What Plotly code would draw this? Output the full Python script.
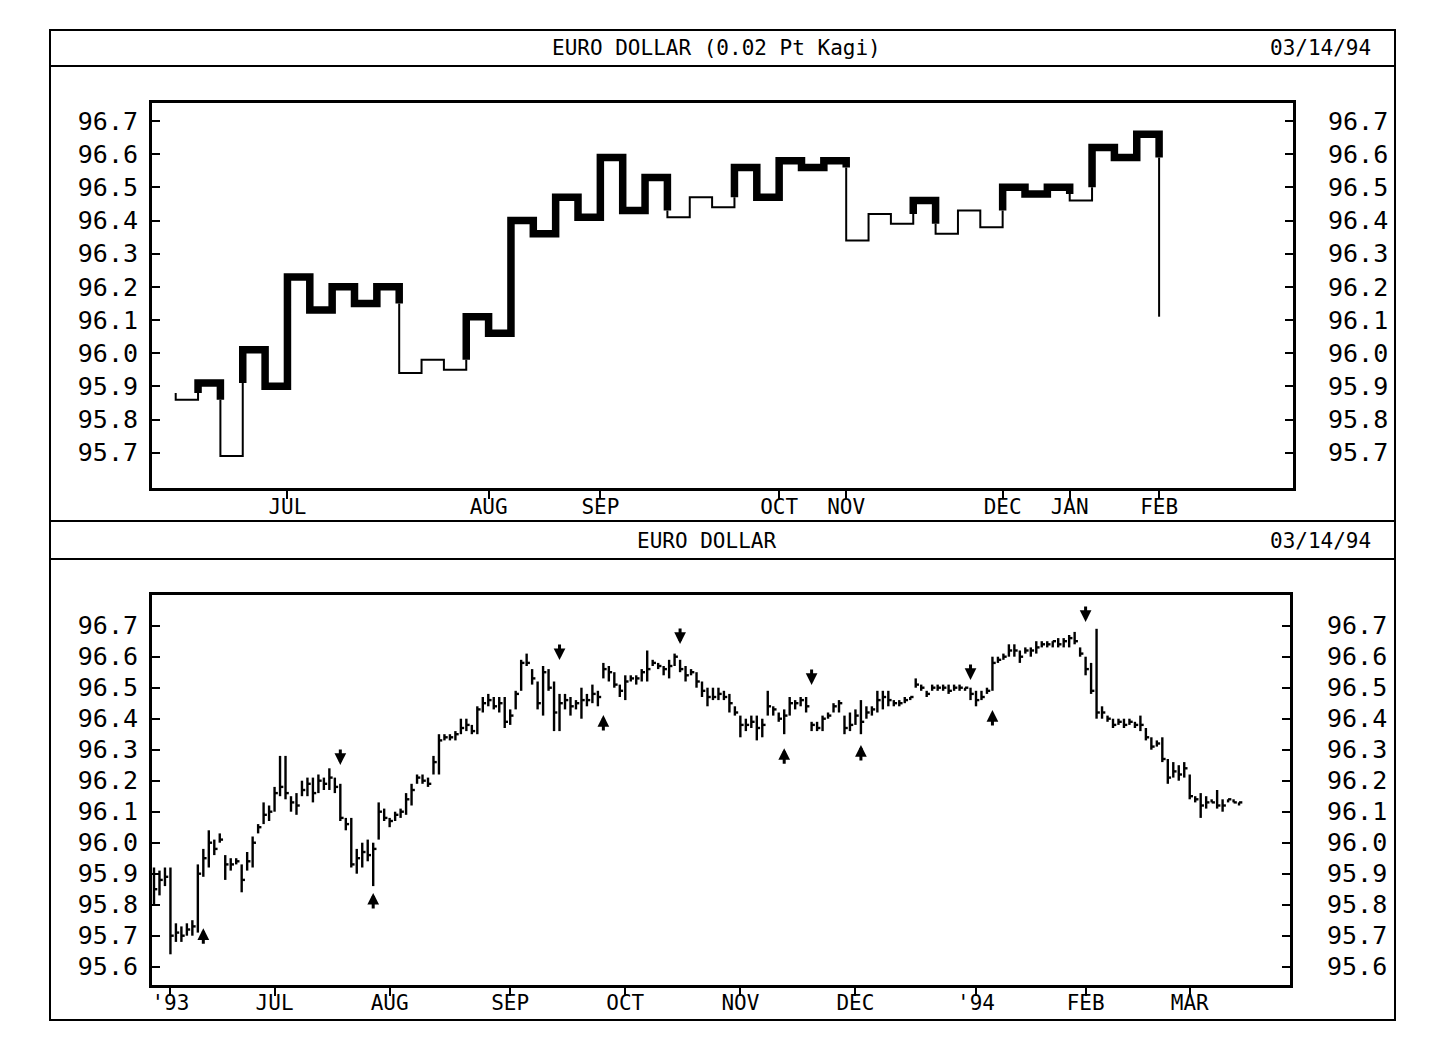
import plotly.graph_objects as go

# page body has an 8px margin; figure is sized so the page fits the 1448x1043 window
OFF = 8
W, H = 1448 - 2 * OFF, 1043 - 2 * OFF

# ---------------- Kagi (top panel) ----------------
kagi_values = [95.88, 95.86, 95.91, 95.69, 96.01, 95.90, 96.23, 96.13, 96.20, 96.15, 96.20,
               95.94, 95.98, 95.95, 96.11, 96.06, 96.40, 96.36, 96.47, 96.41, 96.59, 96.43,
               96.53, 96.41, 96.47, 96.44, 96.56, 96.47, 96.58, 96.56, 96.58, 96.34, 96.42,
               96.39, 96.46, 96.36, 96.43, 96.38, 96.50, 96.48, 96.50, 96.46, 96.62, 96.59,
               96.66, 96.11]
kagi_month_idx = [5, 14, 19, 27, 30, 37, 40, 44]
kagi_month_lbl = ["JUL", "AUG", "SEP", "OCT", "NOV", "DEC", "JAN", "FEB"]

# ---------------- Daily bars (bottom panel) ----------------
bar_high = [95.92, 95.91, 95.92, 95.92, 95.74, 95.73, 95.74, 95.75, 95.93, 95.98,
            96.04, 96.01, 96.03, 95.96, 95.95, 95.95, 95.93, 95.97, 96.02, 96.06,
            96.13, 96.12, 96.18, 96.28, 96.28, 96.15, 96.16, 96.20, 96.21, 96.21,
            96.22, 96.21, 96.24, 96.21, 96.19, 96.08, 96.08, 95.98, 96.00, 96.01,
            96.00, 96.13, 96.11, 96.08, 96.10, 96.11, 96.16, 96.19, 96.22, 96.22,
            96.21, 96.28, 96.35, 96.35, 96.35, 96.36, 96.40, 96.40, 96.38, 96.44,
            96.47, 96.48, 96.47, 96.47, 96.47, 96.43, 96.49, 96.59, 96.61, 96.56,
            96.52, 96.57, 96.56, 96.52, 96.48, 96.48, 96.47, 96.46, 96.50, 96.48,
            96.51, 96.49, 96.58, 96.57, 96.55, 96.51, 96.54, 96.54, 96.54, 96.56,
            96.62, 96.59, 96.58, 96.57, 96.59, 96.61, 96.59, 96.57, 96.56, 96.55,
            96.52, 96.50, 96.50, 96.50, 96.49, 96.48, 96.44, 96.41, 96.40, 96.41,
            96.41, 96.40, 96.49, 96.44, 96.42, 96.43, 96.47, 96.46, 96.47, 96.47,
            96.39, 96.39, 96.41, 96.42, 96.45, 96.46, 96.41, 96.42, 96.43, 96.46,
            96.44, 96.44, 96.49, 96.49, 96.49, 96.46, 96.46, 96.47, 96.47, 96.53,
            96.51, 96.49, 96.51, 96.51, 96.51, 96.51, 96.51, 96.51, 96.50, 96.50,
            96.49, 96.49, 96.50, 96.60, 96.60, 96.61, 96.64, 96.64, 96.62, 96.63,
            96.63, 96.65, 96.65, 96.65, 96.65, 96.66, 96.66, 96.67, 96.68, 96.63,
            96.60, 96.58, 96.69, 96.44, 96.41, 96.40, 96.40, 96.40, 96.40, 96.39,
            96.41, 96.37, 96.34, 96.33, 96.34, 96.27, 96.26, 96.25, 96.26, 96.22,
            96.15, 96.16, 96.15, 96.14, 96.17, 96.14, 96.14, 96.14, 96.13]
bar_low = [95.80, 95.83, 95.86, 95.64, 95.68, 95.68, 95.70, 95.70, 95.71, 95.89,
           95.92, 95.96, 96.00, 95.88, 95.91, 95.93, 95.84, 95.91, 95.92, 96.03,
           96.06, 96.07, 96.10, 96.15, 96.14, 96.10, 96.09, 96.15, 96.15, 96.13,
           96.16, 96.17, 96.17, 96.16, 96.07, 96.04, 95.92, 95.90, 95.92, 95.94,
           95.86, 96.01, 96.07, 96.05, 96.07, 96.08, 96.09, 96.12, 96.19, 96.19,
           96.18, 96.22, 96.22, 96.33, 96.33, 96.33, 96.35, 96.36, 96.35, 96.35,
           96.42, 96.44, 96.43, 96.42, 96.37, 96.38, 96.43, 96.49, 96.57, 96.51,
           96.43, 96.41, 96.49, 96.36, 96.36, 96.43, 96.41, 96.43, 96.40, 96.44,
           96.45, 96.44, 96.53, 96.52, 96.50, 96.47, 96.46, 96.52, 96.51, 96.52,
           96.52, 96.57, 96.56, 96.54, 96.53, 96.57, 96.55, 96.52, 96.54, 96.50,
           96.47, 96.44, 96.46, 96.46, 96.46, 96.42, 96.41, 96.34, 96.36, 96.37,
           96.33, 96.34, 96.41, 96.41, 96.39, 96.35, 96.41, 96.43, 96.44, 96.42,
           96.36, 96.36, 96.36, 96.40, 96.42, 96.42, 96.35, 96.36, 96.38, 96.35,
           96.40, 96.41, 96.42, 96.43, 96.44, 96.44, 96.44, 96.45, 96.46, 96.50,
           96.49, 96.47, 96.49, 96.49, 96.49, 96.48, 96.49, 96.49, 96.49, 96.46,
           96.44, 96.46, 96.48, 96.49, 96.58, 96.59, 96.60, 96.60, 96.58, 96.61,
           96.60, 96.61, 96.63, 96.63, 96.63, 96.63, 96.63, 96.63, 96.64, 96.60,
           96.54, 96.48, 96.40, 96.40, 96.39, 96.37, 96.38, 96.37, 96.38, 96.37,
           96.36, 96.33, 96.30, 96.31, 96.26, 96.19, 96.21, 96.20, 96.21, 96.14,
           96.13, 96.08, 96.11, 96.13, 96.11, 96.10, 96.13, 96.13, 96.12]
bar_close = [95.85, 95.88, 95.89, 95.70, 95.71, 95.70, 95.72, 95.73, 95.90, 95.95,
             96.00, 95.98, 96.01, 95.93, 95.93, 95.94, 95.88, 95.94, 96.00, 96.05,
             96.09, 96.10, 96.16, 96.18, 96.16, 96.13, 96.12, 96.17, 96.19, 96.16,
             96.20, 96.19, 96.21, 96.18, 96.08, 96.06, 95.93, 95.95, 95.97, 95.96,
             95.98, 96.10, 96.08, 96.07, 96.09, 96.10, 96.14, 96.17, 96.21, 96.20,
             96.19, 96.26, 96.33, 96.34, 96.34, 96.35, 96.37, 96.38, 96.36, 96.43,
             96.45, 96.46, 96.44, 96.45, 96.39, 96.41, 96.48, 96.58, 96.58, 96.53,
             96.45, 96.55, 96.50, 96.42, 96.45, 96.46, 96.44, 96.45, 96.46, 96.46,
             96.48, 96.47, 96.56, 96.55, 96.51, 96.49, 96.52, 96.53, 96.53, 96.55,
             96.56, 96.58, 96.57, 96.56, 96.57, 96.60, 96.56, 96.54, 96.55, 96.52,
             96.49, 96.47, 96.47, 96.48, 96.47, 96.45, 96.42, 96.38, 96.38, 96.39,
             96.37, 96.38, 96.44, 96.43, 96.40, 96.41, 96.45, 96.45, 96.46, 96.44,
             96.38, 96.37, 96.40, 96.41, 96.44, 96.45, 96.37, 96.38, 96.41, 96.39,
             96.42, 96.43, 96.46, 96.47, 96.46, 96.45, 96.45, 96.46, 96.47, 96.51,
             96.50, 96.48, 96.50, 96.50, 96.50, 96.49, 96.50, 96.50, 96.50, 96.48,
             96.46, 96.47, 96.49, 96.58, 96.59, 96.60, 96.62, 96.62, 96.60, 96.62,
             96.62, 96.63, 96.64, 96.64, 96.65, 96.64, 96.65, 96.66, 96.65, 96.61,
             96.56, 96.49, 96.42, 96.42, 96.40, 96.38, 96.39, 96.38, 96.39, 96.38,
             96.38, 96.34, 96.31, 96.32, 96.27, 96.21, 96.23, 96.22, 96.24, 96.15,
             96.14, 96.12, 96.13, 96.13, 96.12, 96.12, 96.14, 96.13, 96.13]
bar_month_idx = [3, 22, 43, 65, 86, 107, 128, 150, 170, 189]
bar_month_lbl = ["'93", "JUL", "AUG", "SEP", "OCT", "NOV", "DEC", "'94", "FEB", "MAR"]

# signal arrows: bar index, tip price, direction
arrow_idx = [9, 34, 40, 74, 82, 96, 115, 120, 129, 149, 153, 170]
arrow_tip = [95.724, 96.251, 95.838, 96.589, 96.412, 96.641, 96.305, 96.509, 96.315, 96.525, 96.428, 96.712]
arrow_dir = ["up", "down", "up", "down", "up", "down", "up", "down", "up", "down", "up", "down"]

top_ticks = [95.7, 95.8, 95.9, 96.0, 96.1, 96.2, 96.3, 96.4, 96.5, 96.6, 96.7]
bot_ticks = [95.6, 95.7, 95.8, 95.9, 96.0, 96.1, 96.2, 96.3, 96.4, 96.5, 96.6, 96.7]

MONO = "DejaVu Sans Mono, Liberation Mono, monospace"


def px_x(p):
    return (p - OFF) / W


def px_y(p):
    return 1 - (p - OFF) / H


# ---- build kagi polylines (thick = yang, thin = yin) ----
segs = []
state = False
n = len(kagi_values)
for i in range(n - 1):
    a, b = kagi_values[i], kagi_values[i + 1]
    if i >= 1:
        ref = kagi_values[i - 1]
        if b > a and not state and b > ref:
            segs.append((i, a, i, ref, state))
            state = True
            segs.append((i, ref, i, b, state))
        elif b < a and state and b < ref:
            segs.append((i, a, i, ref, state))
            state = False
            segs.append((i, ref, i, b, state))
        else:
            segs.append((i, a, i, b, state))
    else:
        segs.append((i, a, i, b, state))
    if i < n - 2:
        segs.append((i, b, i + 1, b, state))

lines = {True: ([], []), False: ([], [])}
prev = None
for (x0, y0, x1, y1, st) in segs:
    xs, ys = lines[st]
    if prev is not None and prev[0] == st and prev[1] == (x0, y0):
        xs.append(x1)
        ys.append(y1)
    else:
        xs.extend([None, x0, x1])
        ys.extend([None, y0, y1])
    prev = (st, (x1, y1))

fig = go.Figure()
fig.add_trace(go.Scatter(x=lines[False][0], y=lines[False][1], mode="lines",
                         line=dict(color="black", width=2), xaxis="x", yaxis="y",
                         hoverinfo="skip", showlegend=False))
fig.add_trace(go.Scatter(x=lines[True][0], y=lines[True][1], mode="lines",
                         line=dict(color="black", width=7.5), xaxis="x", yaxis="y",
                         hoverinfo="skip", showlegend=False))
fig.add_trace(go.Scatter(x=[0], y=[96.0], mode="markers", marker=dict(opacity=0),
                         xaxis="x", yaxis="y2", hoverinfo="skip", showlegend=False))

# ---- HLC bars ----
bx, by = [], []
for i, (hh, ll, cc) in enumerate(zip(bar_high, bar_low, bar_close)):
    bx.extend([i, i, None, i, i + 0.6, None])
    by.extend([ll, hh, None, cc, cc, None])
fig.add_trace(go.Scatter(x=bx, y=by, mode="lines", line=dict(color="black", width=2.4),
                         xaxis="x2", yaxis="y3", hoverinfo="skip", showlegend=False))
fig.add_trace(go.Scatter(x=[0], y=[96.0], mode="markers", marker=dict(opacity=0),
                         xaxis="x2", yaxis="y4", hoverinfo="skip", showlegend=False))

annotations = []
for i, tip, d in zip(arrow_idx, arrow_tip, arrow_dir):
    annotations.append(dict(x=i, y=tip, xref="x2", yref="y3", text="", showarrow=True,
                            ax=0, ay=17 if d == "up" else -17, arrowhead=2,
                            arrowsize=0.78, arrowwidth=3, arrowcolor="black"))

# titles
for txt, xc, yc in [("EURO DOLLAR (0.02 Pt Kagi)", 716, 48), ("03/14/94", 1320, 48),
                    ("EURO DOLLAR", 706, 541), ("03/14/94", 1320, 541)]:
    annotations.append(dict(x=px_x(xc), y=px_y(yc), xref="paper", yref="paper", text=txt,
                            showarrow=False, xanchor="center", yanchor="middle",
                            font=dict(family=MONO, size=21, color="black")))

shapes = [
    dict(type="rect", xref="paper", yref="paper", x0=px_x(50), x1=px_x(1395),
         y0=px_y(1020), y1=px_y(30), line=dict(color="black", width=2)),
]
for yy in [66, 521, 559]:
    shapes.append(dict(type="line", xref="paper", yref="paper", x0=px_x(50), x1=px_x(1395),
                       y0=px_y(yy), y1=px_y(yy), line=dict(color="black", width=2)))

top_dom_y = [px_y(488), px_y(102.7)]
bot_dom_y = [px_y(985), px_y(595)]
top_dom_x = [px_x(152), px_x(1293)]
bot_dom_x = [px_x(152), px_x(1290)]

top_yrange = [95.7 - (488 - 452.7) / 331.7, 96.7 + (121 - 102.7) / 331.7]
bot_yrange = [95.6 - (985 - 966.7) / 310.0, 96.7 + (625.7 - 595) / 310.0]

yax_common = dict(tickmode="array", tickformat=".1f", ticks="inside", ticklen=8,
                  tickwidth=2, tickcolor="black", showgrid=False, zeroline=False,
                  tickfont=dict(family=MONO, size=25, color="black"))

fig.update_layout(
    width=W, height=H, autosize=False,
    margin=dict(l=0, r=0, t=0, b=0),
    paper_bgcolor="white", plot_bgcolor="white",
    showlegend=False,
    xaxis=dict(domain=top_dom_x, anchor="y", range=[(152 - 175.7) / 22.35, (1293 - 175.7) / 22.35],
               tickmode="array", tickvals=kagi_month_idx, ticktext=kagi_month_lbl,
               ticks="outside", ticklen=8, tickwidth=2, tickcolor="black",
               ticklabelstandoff=-10,
               showline=True, linewidth=3, linecolor="black", mirror=True,
               showgrid=False, zeroline=False,
               tickfont=dict(family=MONO, size=21, color="black")),
    yaxis=dict(domain=top_dom_y, anchor="x", range=top_yrange, tickvals=top_ticks,
               showline=True, linewidth=3, linecolor="black", mirror=True,
               ticklabelstandoff=6, **yax_common),
    yaxis2=dict(overlaying="y", side="right", anchor="x", range=top_yrange,
                tickvals=top_ticks, showline=False, ticklabelstandoff=34, **yax_common),
    xaxis2=dict(domain=bot_dom_x, anchor="y3", range=[(152 - 154) / 5.48, (1290 - 154) / 5.48],
                tickmode="array", tickvals=bar_month_idx, ticktext=bar_month_lbl,
                ticks="outside", ticklen=8, tickwidth=2, tickcolor="black",
                ticklabelstandoff=-11,
                showline=True, linewidth=3, linecolor="black", mirror=True,
                showgrid=False, zeroline=False,
                tickfont=dict(family=MONO, size=21, color="black")),
    yaxis3=dict(domain=bot_dom_y, anchor="x2", range=bot_yrange, tickvals=bot_ticks,
                showline=True, linewidth=3, linecolor="black", mirror=True,
                ticklabelstandoff=6, **yax_common),
    yaxis4=dict(overlaying="y3", side="right", anchor="x2", range=bot_yrange,
                tickvals=bot_ticks, showline=False, ticklabelstandoff=36, **yax_common),
    annotations=annotations,
    shapes=shapes,
)

fig.write_html("out.html")
